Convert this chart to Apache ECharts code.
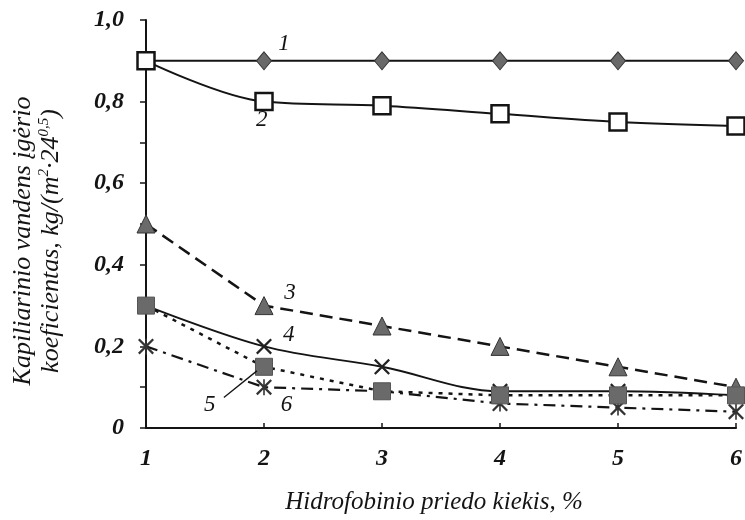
<!DOCTYPE html>
<html>
<head>
<meta charset="utf-8">
<script src="https://cdn.jsdelivr.net/npm/echarts@6/dist/echarts.min.js"></script>
<style>
  html, body { margin: 0; padding: 0; background: #fff; }
  #chart { width: 745px; height: 520px; }
</style>
</head>
<body>
<div id="chart"></div>
<script>
// Hydrophobic additive content, %
const additive = [1, 2, 3, 4, 5, 6];
// Capillary water absorption coefficient, kg/(m2*24^0.5), curves 1-6
const curve1 = [0.90, 0.90, 0.90, 0.90, 0.90, 0.90];
const curve2 = [0.90, 0.80, 0.79, 0.77, 0.75, 0.74];
const curve3 = [0.50, 0.30, 0.25, 0.20, 0.15, 0.10];
const curve4 = [0.30, 0.20, 0.15, 0.09, 0.09, 0.08];
const curve5 = [0.30, 0.15, 0.09, 0.08, 0.08, 0.08];
const curve6 = [0.20, 0.10, 0.09, 0.06, 0.05, 0.04];
const curveNames = ['1', '2', '3', '4', '5', '6'];
// Where each curve number is written (data coordinates)
const curveTags = [[2.17, 0.942], [1.98, 0.755], [2.22, 0.332], [2.21, 0.228], [1.54, 0.056], [2.19, 0.056]];
// Leader line from tag 5 to its curve
const leader5 = [[1.66, 0.075], [1.94, 0.14]];

const SERIF = '"Liberation Serif", "DejaVu Serif", serif';
const INK = '#141414';
const GREY = '#6a6a6a';

const pairs = v => additive.map((x, i) => [x, v[i]]);

const X_PATH = 'path://M0,2 L2,0 L10,8 L18,0 L20,2 L12,10 L20,18 L18,20 L10,12 L2,20 L0,18 L8,10 Z';
const STAR_PATH = 'path://M0,2 L2,0 L10,8 L18,0 L20,2 L12,10 L20,18 L18,20 L10,12 L2,20 L0,18 L8,10 Z M9,0 L11,0 L11,20 L9,20 Z';

function tag(i) {
  return {
    symbol: 'circle',
    symbolSize: 1,
    silent: true,
    itemStyle: { color: 'rgba(0,0,0,0)', borderWidth: 0 },
    label: {
      show: true, position: 'inside', formatter: curveNames[i],
      fontFamily: SERIF, fontStyle: 'italic', fontSize: 23, color: INK
    },
    data: [{ coord: curveTags[i] }]
  };
}

function makeSeries(i, data, opts) {
  return Object.assign({
    type: 'line',
    name: curveNames[i],
    data: pairs(data),
    symbolSize: 14,
    lineStyle: { color: INK, width: 2 },
    itemStyle: { color: GREY, borderColor: '#333', borderWidth: 1 },
    markPoint: tag(i),
    animation: false
  }, opts);
}

const series = [
  makeSeries(0, curve1, { symbol: 'diamond', symbolSize: [15, 18], z: 2 }),
  makeSeries(1, curve2, {
    symbol: 'rect', symbolSize: 17, smooth: 0.35, z: 3,
    itemStyle: { color: '#fff', borderColor: INK, borderWidth: 2.5 }
  }),
  makeSeries(2, curve3, {
    symbol: 'triangle', symbolSize: 18, z: 3,
    lineStyle: { color: INK, width: 2.5, type: [13, 7] }
  }),
  makeSeries(3, curve4, {
    symbol: X_PATH, symbolSize: 16, smooth: 0.35, z: 3,
    itemStyle: { color: '#222', borderWidth: 0 }
  }),
  makeSeries(5, curve6, {
    symbol: STAR_PATH, symbolSize: 16, z: 3,
    itemStyle: { color: '#333', borderWidth: 0 },
    lineStyle: { color: INK, width: 2.2, type: [12, 6, 3, 6] }
  }),
  makeSeries(4, curve5, {
    symbol: 'rect', symbolSize: 17, z: 4,
    itemStyle: { color: GREY, borderColor: '#555', borderWidth: 1 },
    lineStyle: { color: INK, width: 2.5, type: [4, 6] },
    markLine: {
      symbol: 'none', silent: true, label: { show: false },
      lineStyle: { color: INK, width: 1.3, type: 'solid' },
      data: [[{ coord: leader5[0] }, { coord: leader5[1] }]]
    }
  })
];

const titleY = '{a|Kapiliarinio vandens įgėrio}\n{a|koeficientas, kg/(m}{s|2}{a|·24}{s|0,5}{a|)}';

const chart = echarts.init(document.getElementById('chart'), null, { renderer: 'canvas' });
chart.setOption({
  backgroundColor: '#fff',
  animation: false,
  grid: { left: 146, right: 4, top: 20, bottom: 87, containLabel: false },
  graphic: [{
    type: 'text',
    x: 37, y: 241,
    rotation: Math.PI / 2,
    silent: true,
    style: {
      text: titleY,
      align: 'center',
      verticalAlign: 'middle',
      fill: INK,
      font: 'italic 26px ' + SERIF,
      lineHeight: 28,
      rich: {
        a: { fontFamily: SERIF, fontStyle: 'italic', fontSize: 26, fill: INK, lineHeight: 28 },
        s: { fontFamily: SERIF, fontStyle: 'italic', fontSize: 15, fill: INK, verticalAlign: 'top', lineHeight: 28, padding: [0, 0, 10, 0] }
      }
    }
  }],
  xAxis: {
    type: 'value', min: 1, max: 6, interval: 1,
    name: 'Hidrofobinio priedo kiekis, %',
    nameLocation: 'middle', nameGap: 62,
    nameTextStyle: { fontFamily: SERIF, fontStyle: 'italic', fontSize: 25, color: INK, padding: [0, 14, 0, 0] },
    axisLine: { lineStyle: { color: INK, width: 2 } },
    axisTick: { inside: true, length: 5, lineStyle: { color: INK, width: 1.5 } },
    axisLabel: {
      margin: 19, fontFamily: SERIF, fontStyle: 'italic', fontWeight: 'bold',
      fontSize: 24, color: INK
    },
    splitLine: { show: false }
  },
  yAxis: {
    type: 'value', min: 0, max: 1, interval: 0.1,
    axisLine: { show: true, lineStyle: { color: INK, width: 2 } },
    axisTick: { show: true, inside: false, length: 6, lineStyle: { color: INK, width: 1.5 } },
    axisLabel: {
      margin: 22, fontFamily: SERIF, fontStyle: 'italic', fontWeight: 'bold',
      fontSize: 24, color: INK,
      formatter: v => {
        const k = Math.round(v * 10);
        if (k % 2 !== 0) return '';
        if (k === 0) return '0';
        return (k / 10).toFixed(1).replace('.', ',');
      }
    },
    splitLine: { show: false }
  },
  series: series
});
</script>
</body>
</html>
